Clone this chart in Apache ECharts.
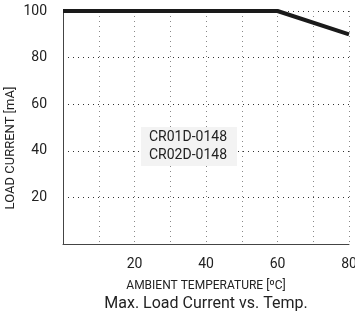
<!DOCTYPE html>
<html>
<head>
<meta charset="utf-8">
<script src="https://cdn.jsdelivr.net/npm/echarts@6/dist/echarts.min.js"></script>
<style>
  html, body { margin: 0; padding: 0; background: #fff; }
  #chart { width: 355px; height: 318px; }
</style>
</head>
<body>
<div id="chart"></div>
<script>
// derating curve
var temps = [0, 60, 80];
var currents = [100, 100, 90];
var models = ['CR01D-0148', 'CR02D-0148'];
var xLabels = [20, 40, 60, 80];
var yLabels = [20, 40, 60, 80, 100];

var FONT = 'Roboto, "Liberation Sans", sans-serif';

var chart = echarts.init(document.getElementById('chart'));

var option = {
  backgroundColor: '#fff',
  animation: false,
  textStyle: { fontFamily: FONT },
  grid: { left: 63, right: 6, top: 11, bottom: 74, outerBoundsMode: 'none', containLabel: false },
  xAxis: {
    type: 'value',
    min: 0,
    max: 80,
    interval: 10,
    name: 'AMBIENT TEMPERATURE [ºC]',
    nameLocation: 'middle',
    nameGap: 36,
    nameTextStyle: { fontFamily: FONT, fontSize: 12, color: '#222' },
    axisLine: { lineStyle: { color: '#444', width: 1 } },
    axisTick: { show: false },
    axisLabel: {
      margin: 13,
      fontFamily: FONT,
      fontSize: 14,
      color: '#222',
      formatter: function (v) { return xLabels.indexOf(v) >= 0 ? String(v) : ''; }
    },
    splitLine: { show: true, lineStyle: { color: '#888', type: [1, 4], width: 1 } }
  },
  yAxis: {
    type: 'value',
    min: 0,
    max: 100,
    interval: 20,
    axisLine: { show: true, lineStyle: { color: '#444', width: 1 } },
    axisTick: { show: false },
    axisLabel: {
      margin: 16,
      fontFamily: FONT,
      fontSize: 14,
      color: '#222',
      formatter: function (v) { return yLabels.indexOf(v) >= 0 ? String(v) : ''; }
    },
    splitLine: { show: true, lineStyle: { color: '#333', type: [1, 4], width: 1 } }
  },
  series: [{
    type: 'line',
    data: temps.map(function (t, i) { return [t, currents[i]]; }),
    symbol: 'none',
    clip: false,
    lineStyle: { color: '#1a1a1a', width: 4 },
    z: 5
  }],
  graphic: [
    {
      type: 'text',
      x: 11, y: 148,
      rotation: Math.PI / 2,
      style: {
        text: 'LOAD CURRENT [mA]',
        font: '13px ' + FONT,
        fill: '#222',
        align: 'center',
        verticalAlign: 'middle'
      }
    },
    {
      type: 'rect',
      left: 141, top: 127,
      shape: { width: 96, height: 39 },
      style: { fill: '#f3f3f3' },
      z: 10
    },
    {
      type: 'text',
      left: 149, top: 130,
      style: { text: models[0], font: '14px ' + FONT, fill: '#222' },
      z: 11
    },
    {
      type: 'text',
      left: 149, top: 148,
      style: { text: models[1], font: '14px ' + FONT, fill: '#222' },
      z: 11
    },
    {
      type: 'text',
      x: 206, y: 304,
      style: {
        text: 'Max. Load Current vs. Temp.',
        font: '16px ' + FONT,
        fill: '#222',
        align: 'center',
        verticalAlign: 'middle'
      }
    }
  ]
};

chart.setOption(option);
</script>
</body>
</html>
